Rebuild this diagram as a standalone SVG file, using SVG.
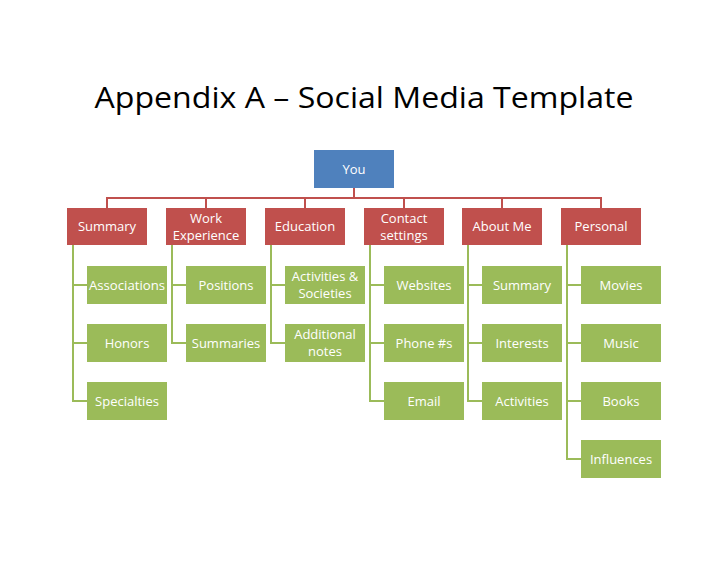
<svg xmlns="http://www.w3.org/2000/svg" width="728" height="563" viewBox="0 0 728 563">
<style>
text{font-family:"Open Sans","Liberation Sans",sans-serif;fill:#fff;font-size:13px;text-anchor:middle}
.t{fill:#000;font-size:30px}
.r{fill:#C0504D}.g{fill:#9BBB59}.b{fill:#4F81BD}
.rl{stroke:#C0504D;stroke-width:2;fill:none}.gl{stroke:#9BBB59;stroke-width:2;fill:none}
</style>
<rect width="728" height="563" fill="#fff"/>
<text class="t" x="364" y="108" textLength="539" lengthAdjust="spacingAndGlyphs">Appendix A – Social Media Template</text>
<g id="connectors">
<path class="rl" d="M354 188V198M107 208V198H601V208M206 198V208M305 198V208M404 198V208M502 198V208"/>
<path class="gl" d="M73 245V401H87M73 285H87M73 343H87"/>
<path class="gl" d="M172 245V343H186M172 285H186"/>
<path class="gl" d="M271 245V343H285M271 285H285"/>
<path class="gl" d="M370 245V401H384M370 285H384M370 343H384"/>
<path class="gl" d="M468 245V401H482M468 285H482M468 343H482"/>
<path class="gl" d="M567 245V459H581M567 285H581M567 343H581M567 401H581"/>
</g>
<g id="you"><rect class="b" x="314" y="150" width="80" height="38"/><text x="354" y="174">You</text></g>
<g id="summary"><rect class="r" x="67" y="208" width="80" height="37"/><text x="107" y="231">Summary</text></g>
<g id="work"><rect class="r" x="166" y="208" width="80" height="37"/><text x="206" y="223">Work</text><text x="206" y="240">Experience</text></g>
<g id="education"><rect class="r" x="265" y="208" width="80" height="37"/><text x="305" y="231">Education</text></g>
<g id="contact"><rect class="r" x="364" y="208" width="80" height="37"/><text x="404" y="223">Contact</text><text x="404" y="240">settings</text></g>
<g id="about"><rect class="r" x="462" y="208" width="80" height="37"/><text x="502" y="231">About Me</text></g>
<g id="personal"><rect class="r" x="561" y="208" width="80" height="37"/><text x="601" y="231">Personal</text></g>
<g id="associations"><rect class="g" x="87" y="266" width="80" height="38"/><text x="127" y="290" textLength="76" lengthAdjust="spacingAndGlyphs">Associations</text></g>
<g id="honors"><rect class="g" x="87" y="324" width="80" height="38"/><text x="127" y="348">Honors</text></g>
<g id="specialties"><rect class="g" x="87" y="382" width="80" height="38"/><text x="127" y="406">Specialties</text></g>
<g id="positions"><rect class="g" x="186" y="266" width="80" height="38"/><text x="226" y="290">Positions</text></g>
<g id="summaries"><rect class="g" x="186" y="324" width="80" height="38"/><text x="226" y="348">Summaries</text></g>
<g id="activities-societies"><rect class="g" x="285" y="266" width="80" height="38"/><text x="325" y="281">Activities &amp;</text><text x="325" y="298">Societies</text></g>
<g id="additional-notes"><rect class="g" x="285" y="324" width="80" height="38"/><text x="325" y="339">Additional</text><text x="325" y="356">notes</text></g>
<g id="websites"><rect class="g" x="384" y="266" width="80" height="38"/><text x="424" y="290">Websites</text></g>
<g id="phone"><rect class="g" x="384" y="324" width="80" height="38"/><text x="424" y="348">Phone #s</text></g>
<g id="email"><rect class="g" x="384" y="382" width="80" height="38"/><text x="424" y="406">Email</text></g>
<g id="about-summary"><rect class="g" x="482" y="266" width="80" height="38"/><text x="522" y="290">Summary</text></g>
<g id="interests"><rect class="g" x="482" y="324" width="80" height="38"/><text x="522" y="348">Interests</text></g>
<g id="activities"><rect class="g" x="482" y="382" width="80" height="38"/><text x="522" y="406">Activities</text></g>
<g id="movies"><rect class="g" x="581" y="266" width="80" height="38"/><text x="621" y="290">Movies</text></g>
<g id="music"><rect class="g" x="581" y="324" width="80" height="38"/><text x="621" y="348">Music</text></g>
<g id="books"><rect class="g" x="581" y="382" width="80" height="38"/><text x="621" y="406">Books</text></g>
<g id="influences"><rect class="g" x="581" y="440" width="80" height="38"/><text x="621" y="464">Influences</text></g>
</svg>
